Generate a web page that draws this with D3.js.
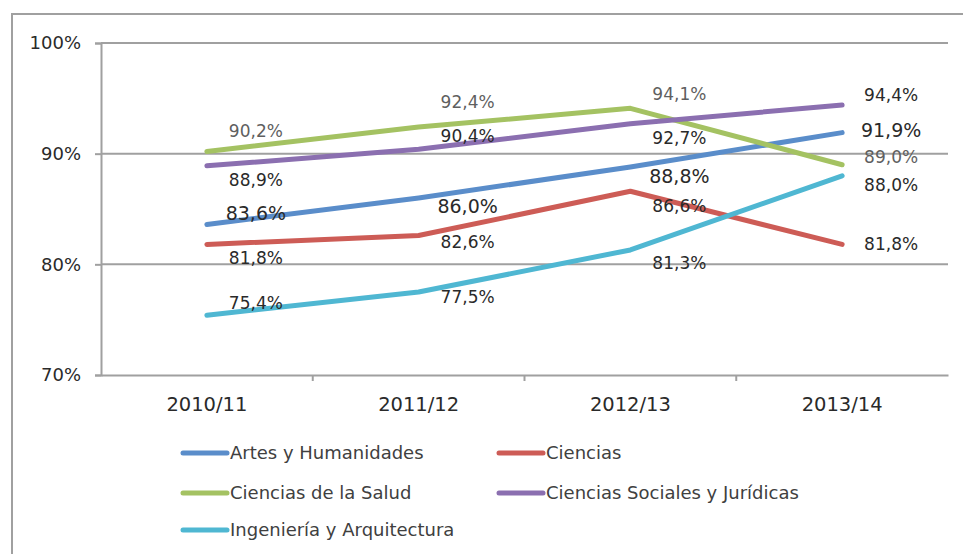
<!DOCTYPE html>
<html lang="es">
<head>
    <meta charset="UTF-8">
    <title>Evolución por rama de conocimiento</title>
    <script src="https://d3js.org/d3.v7.min.js"></script>
    <style>
        body {
            margin: 0;
            background: #fff;
            font-family: "DejaVu Sans", sans-serif;
        }
        svg {
            display: block;
        }
    </style>
</head>
<body>
    <svg id="chart"></svg>
    <script>
        // data
        const years = ["2010/11", "2011/12", "2012/13", "2013/14"];
        const seriesNames = ["Artes y Humanidades", "Ciencias", "Ciencias de la Salud",
            "Ciencias Sociales y Jurídicas", "Ingeniería y Arquitectura"];
        const artes = [83.6, 86.0, 88.8, 91.9];
        const ciencias = [81.8, 82.6, 86.6, 81.8];
        const salud = [90.2, 92.4, 94.1, 89.0];
        const sociales = [88.9, 90.4, 92.7, 94.4];
        const ingenieria = [75.4, 77.5, 81.3, 88.0];
        const yTicks = [70, 80, 90, 100];

        const colors = ["#5a8dca", "#cd5c56", "#a4c262", "#8b6fb0", "#4fb7d2"];
        // label vertical nudges (px) as placed in the original
        const labelNudge = [
            [-11, 8, 9, -2],
            [14, 6, 15, 0],
            [-20, -25, -14, -8],
            [14, -13, 14, -10],
            [-12, 5, 13, 9]
        ];

        const series = seriesNames.map((name, i) => ({
            name,
            values: [artes, ciencias, salud, sociales, ingenieria][i],
            color: colors[i],
            nudge: labelNudge[i]
        }));

        const width = 963, height = 554;
        const svg = d3.select("#chart").attr("width", width).attr("height", height);

        // outer frame
        svg.append("rect")
            .attr("x", 12).attr("y", 14)
            .attr("width", 970).attr("height", 560)
            .attr("fill", "none")
            .attr("stroke", "#a0a0a0")
            .attr("stroke-width", 2);

        const x = d3.scaleBand().domain(years).range([101, 948]);
        const y = d3.scaleLinear().domain([70, 100]).range([375, 43]);

        // gridlines
        svg.append("g").selectAll("line")
            .data(yTicks.filter(t => t > 70))
            .join("line")
            .attr("x1", 101).attr("x2", 948)
            .attr("y1", d => y(d)).attr("y2", d => y(d))
            .attr("stroke", "#a0a0a0")
            .attr("stroke-width", 2);

        // y axis
        const yAxis = svg.append("g")
            .attr("transform", "translate(101,0)")
            .call(d3.axisLeft(y).tickValues(yTicks).tickSize(6).tickPadding(14)
                .tickFormat(d => d + "%"));
        yAxis.select(".domain").attr("stroke", "#a0a0a0").attr("stroke-width", 2);
        yAxis.selectAll(".tick line").attr("stroke", "#a0a0a0").attr("stroke-width", 2);
        yAxis.selectAll("text")
            .attr("font-family", "DejaVu Sans, sans-serif")
            .attr("font-size", 18)
            .attr("fill", "#2a2a2a");

        // x axis
        const xAxis = svg.append("g")
            .attr("transform", `translate(0,${y(70)})`)
            .call(d3.axisBottom(x).tickSize(0).tickPadding(22));
        xAxis.select(".domain").attr("stroke", "#a0a0a0").attr("stroke-width", 2);
        xAxis.selectAll("text")
            .attr("font-family", "DejaVu Sans, sans-serif")
            .attr("font-size", 19.5)
            .attr("fill", "#2a2a2a");
        // category separators
        xAxis.selectAll(".sep")
            .data(years.slice(1))
            .join("line")
            .attr("x1", d => x(d)).attr("x2", d => x(d))
            .attr("y1", 0).attr("y2", 6)
            .attr("stroke", "#a0a0a0")
            .attr("stroke-width", 2);

        const cx = d => x(d) + x.bandwidth() / 2;
        const line = d3.line()
            .x((d, i) => cx(years[i]))
            .y(d => y(d));

        svg.append("g").selectAll("path")
            .data(series)
            .join("path")
            .attr("d", s => line(s.values))
            .attr("fill", "none")
            .attr("stroke", s => s.color)
            .attr("stroke-width", 5)
            .attr("stroke-linecap", "round")
            .attr("stroke-linejoin", "round");

        // data labels
        const fmt = v => d3.format(".1f")(v).replace(".", ",") + "%";
        series.forEach((s, si) => {
            svg.append("g").selectAll("text")
                .data(s.values)
                .join("text")
                .attr("x", (d, i) => cx(years[i]) + 49)
                .attr("y", (d, i) => y(d) + s.nudge[i])
                .attr("dy", "0.35em")
                .attr("text-anchor", "middle")
                .attr("font-size", si === 0 ? 19 : 17)
                .attr("fill", si === 2 ? "#5f5f5f" : "#2a2a2a")
                .text(fmt);
        });

        // legend
        const legendPos = [[183, 453], [499, 453], [183, 493], [499, 493], [183, 530]];
        const legend = svg.append("g").selectAll("g")
            .data(series)
            .join("g")
            .attr("transform", (d, i) => `translate(${legendPos[i][0]},${legendPos[i][1]})`);
        legend.append("line")
            .attr("x1", 0).attr("x2", 44)
            .attr("stroke", d => d.color)
            .attr("stroke-width", 5)
            .attr("stroke-linecap", "round");
        legend.append("text")
            .attr("x", 47)
            .attr("dy", "0.35em")
            .attr("font-size", 18)
            .attr("fill", "#404040")
            .text(d => d.name);
    </script>
</body>
</html>
